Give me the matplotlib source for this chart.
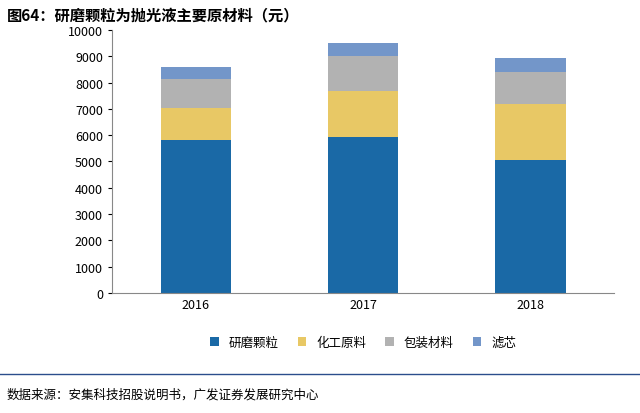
import numpy as np
import matplotlib
matplotlib.use("Agg")
import matplotlib.pyplot as plt

plt.rcParams['font.family'] = ['Noto Sans CJK SC', 'DejaVu Sans']

years = ['2016', '2017', '2018']
series_names = ['研磨颗粒', '化工原料', '包装材料', '滤芯']
grind = [5800, 5930, 5050]
chem = [1250, 1770, 2150]
pack = [1080, 1330, 1200]
filt = [450, 470, 550]
colors = ['#1a69a6', '#e8c865', '#b2b2b2', '#7396c9']

fig = plt.figure(figsize=(6.4, 4.14), dpi=100)
fig.text(0.01, 0.962, '图64：研磨颗粒为抛光液主要原材料（元）', fontsize=11, fontweight='bold', va='center')
fig.add_artist(plt.Line2D([0, 1], [0.093, 0.093], color='#2b4d8c', lw=1))
fig.text(0.01, 0.045, '数据来源：安集科技招股说明书，广发证券发展研究中心', fontsize=9, va='center')

ax = fig.add_axes([0.175, 0.29, 0.785, 0.635])
x = np.arange(len(years))
bottom = np.zeros(3)
for vals, name, c in zip([grind, chem, pack, filt], series_names, colors):
    ax.bar(x, vals, 0.42, bottom=bottom, color=c, label=name)
    bottom += vals
ax.set_ylim(0, 10000)
ax.set_yticks(range(0, 10001, 1000))
ax.set_xticks(x)
ax.set_xticklabels(years)
ax.set_xlim(-0.5, 2.5)
ax.tick_params(labelsize=9, length=0)
ax.tick_params(axis='y', length=3)
for s in ['top', 'right']:
    ax.spines[s].set_visible(False)
ax.spines['left'].set_color('#888888')
ax.spines['bottom'].set_color('#888888')
ax.legend(loc='upper center', bbox_to_anchor=(0.5, -0.12), ncol=4, frameon=False,
          fontsize=9, handlelength=0.7, handleheight=0.7, columnspacing=1.5)
fig.savefig('out.png')
